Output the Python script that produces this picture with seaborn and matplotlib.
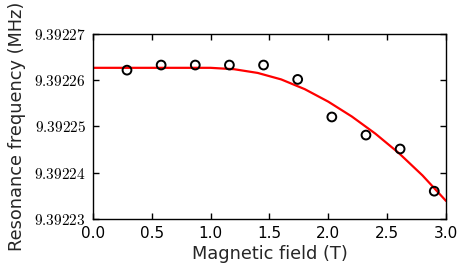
import numpy as np
import pandas as pd
import seaborn as sns
import matplotlib
matplotlib.use('Agg')
import matplotlib.pyplot as plt
from matplotlib.ticker import FuncFormatter

# Dados medidos (campo em T, frequencia em MHz)
field = [0.29, 0.58, 0.87, 1.16, 1.45, 1.74, 2.03, 2.32, 2.61, 2.90]
freq = [9.3922621, 9.3922632, 9.3922632, 9.3922632, 9.3922632,
        9.3922601, 9.3922520, 9.3922481, 9.3922451, 9.3922360]

# Curva ajustada
fit_field = [0.0, 0.5, 0.8, 1.0, 1.2, 1.4, 1.6, 1.8, 2.0, 2.2, 2.4, 2.6, 2.8, 3.0]
fit_freq = [9.3922626, 9.3922626, 9.3922626, 9.3922626, 9.3922623, 9.3922615,
            9.3922601, 9.3922580, 9.3922553, 9.3922521, 9.3922484, 9.3922442,
            9.3922394, 9.3922339]

xticks = [0.0, 0.5, 1.0, 1.5, 2.0, 2.5, 3.0]
yticks = [9.39223, 9.39224, 9.39225, 9.39226, 9.39227]

sns.set_style('ticks')
plt.rcParams['mathtext.fontset'] = 'cm'

pts = pd.DataFrame({'field': field, 'freq': freq})
fit = pd.DataFrame({'field': fit_field, 'freq': fit_freq})

fig = plt.figure(figsize=(4.69, 2.74), dpi=100)
ax = fig.add_axes([0.198, 0.2007, 0.753, 0.677])

sns.lineplot(data=fit, x='field', y='freq', color='red', linewidth=1.6, ax=ax)
sns.scatterplot(data=pts, x='field', y='freq', marker='o', s=40,
                facecolor='none', edgecolor='black', linewidth=1.4, ax=ax, zorder=3)

ax.set_xlim(0, 3.0)
ax.set_ylim(9.39223, 9.39227)
ax.set_xticks(xticks)
ax.set_yticks(yticks)
ax.yaxis.set_major_formatter(FuncFormatter(lambda v, p: r'$%.5f$' % v))
ax.tick_params(direction='in', top=True, right=True, length=4, width=1, colors='black')
ax.tick_params(axis='x', labelsize=11, pad=5)
ax.tick_params(axis='y', labelsize=11, pad=5)
for s in ax.spines.values():
    s.set_color('black')
    s.set_linewidth(1.0)

ax.set_xlabel('Magnetic field (T)', fontsize=12.8, labelpad=3)
ax.set_ylabel('Resonance frequency (MHz)', fontsize=12.8, labelpad=6)

fig.savefig('out.png', dpi=100)
